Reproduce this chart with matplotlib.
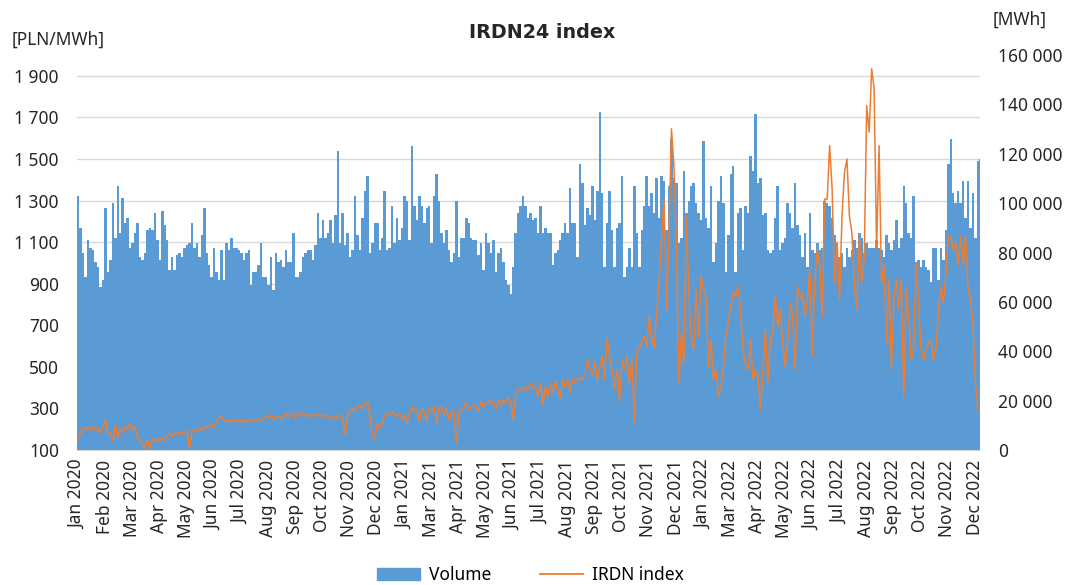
import numpy as np
import pandas as pd
import matplotlib
matplotlib.use("Agg")
import matplotlib.pyplot as plt
from matplotlib.patches import Patch
from matplotlib.lines import Line2D

# ---------------- data (3-day resolution) ----------------
start_date = "2020-01-01"
step_days = 3

# Volume [thousand MWh]
volume_2020 = [103,90,80,70,85,82,81,76,74,66,
               69,98,72,77,100,86,107,88,102,92,
               94,82,84,88,92,78,77,80,89,90,
               89,96,85,77,97,91,85,73,78,73,
               79,80,78,82,83,84,92,82,84,78,
               87,98,80,75,70,82,72,69,81,69,
               84,81,86,82,82,81,80,77,80,81,
               67,72,72,75,84,70,70,67,78,65,
               80,76,77,74,81,76,76,88,70,70,
               72,78,80,81,81,77,83,96,86,93,
               86,88,93,84,95,121,84,96,83,88,
               78,81,103,87,81,94,105,111,80,84,
               92,92]
volume_2021 = [81,86,105,81,82,99,84,94,85,90,
               103,101,85,123,99,93,103,99,92,98,
               99,84,103,112,101,88,84,89,81,76,
               80,101,78,86,86,94,92,86,85,85,
               79,84,73,88,84,80,85,72,80,82,
               76,69,67,63,74,88,96,99,103,99,
               94,96,93,94,88,99,88,90,88,88,
               75,80,81,85,88,92,88,106,92,92,
               78,116,108,91,98,95,107,93,105,137,
               104,74,92,105,89,74,90,92,111,70,
               74,82,74,107,88,74,89,99,111,99,
               104,96,110,94,111,109,89,107,126,110,
               108,84]
volume_2022 = [86,113,96,101,107,108,100,96,93,125,
               94,90,107,76,84,101,111,100,72,87,
               112,115,72,96,98,81,99,96,119,113,
               136,108,110,95,96,81,80,81,94,107,
               81,84,86,100,96,90,108,91,87,78,
               88,74,96,81,80,84,81,82,101,100,
               99,94,87,84,78,80,74,82,78,81,
               85,82,88,86,80,84,82,82,82,85,
               82,81,78,87,84,81,85,93,82,86,
               107,100,88,86,103,76,77,74,77,74,
               73,68,82,82,69,82,77,89,116,126,
               104,100,105,100,109,94,109,90,104,86,
               117,118]

# IRDN24 index [PLN/MWh]
price_2020 = [156,180,205,197,213,197,213,188,205,180,
              213,245,180,188,140,221,156,205,180,213,
              197,229,197,213,156,148,132,108,148,108,
              156,140,156,145,156,140,168,180,164,180,
              188,172,188,180,197,108,188,197,188,205,
              193,213,205,216,221,205,242,253,261,242,
              237,248,232,245,237,248,232,248,237,245,
              232,248,242,253,242,248,261,253,269,245,
              261,264,248,261,274,258,277,264,253,285,
              264,277,261,274,261,269,261,274,261,269,
              261,269,253,264,248,269,261,248,172,269,
              290,301,285,309,317,293,325,333,269,172,
              156,229]
price_2021 = [205,229,261,277,269,285,269,261,277,245,
              269,229,269,309,285,293,237,301,277,245,
              301,293,309,229,301,309,269,301,245,285,
              293,132,277,293,301,325,293,309,317,309,
              285,333,309,325,341,325,333,293,341,317,
              341,325,349,333,245,374,390,398,382,406,
              390,422,398,406,357,422,317,406,357,422,
              374,430,390,349,438,406,438,374,446,422,
              438,446,438,462,534,494,462,526,438,502,
              551,438,639,551,486,398,486,333,534,486,
              551,422,534,229,567,591,615,647,599,744,
              631,591,760,905,1130,1307,776,1146,1645,1468,
              1098,422]
price_2022 = [663,518,1226,872,631,583,872,647,937,872,
              840,502,631,438,486,357,406,486,647,711,
              792,856,840,888,760,583,502,486,631,438,
              486,454,293,470,679,422,631,663,840,695,
              776,615,502,615,808,744,486,888,824,856,
              744,824,969,551,905,1065,985,744,1307,1307,
              1564,1355,905,1098,824,1226,1435,1500,1226,1146,
              905,776,1130,905,1017,1757,1629,1934,1838,1065,
              1564,905,985,615,921,486,824,921,776,921,
              357,872,744,534,583,1001,808,583,534,583,
              615,631,534,583,760,888,808,937,1130,1130,
              1065,1098,985,1130,1001,1130,872,824,711,422,
              293,277]

left_ticks = [100, 300, 500, 700, 900, 1100, 1300, 1500, 1700, 1900]
right_ticks = [0, 20000, 40000, 60000, 80000, 100000, 120000, 140000, 160000]
label_every_days = 33

# ---------------- build ----------------
volume = np.array(volume_2020 + volume_2021 + volume_2022, dtype=float) * 1000
price = np.array(price_2020 + price_2021 + price_2022, dtype=float)
dates = pd.date_range(start_date, periods=len(volume), freq=f"{step_days}D")
line_dates = dates + pd.Timedelta(hours=36)

plt.rcParams['font.family'] = ['Noto Sans', 'DejaVu Sans']
BLUE = "#5B9BD5"
ORANGE = "#ED7D31"
GRID = "#D9D9D9"
TXT = "#262626"
FS = 12.5

fig = plt.figure(figsize=(10.7, 5.85), dpi=100)
rect = [77/1070, 1-450/585, (980-77)/1070, (450-55)/585]
ax_grid = fig.add_axes(rect)
ax_bar = ax_grid.twinx()
ax_line = ax_grid.twinx()

x0 = pd.Timestamp("2020-01-01")
x1 = pd.Timestamp("2023-01-01")

# gridlines layer (price scale)
ax_grid.set_ylim(100, 2000)
ax_grid.set_yticks(left_ticks)
ax_grid.set_yticklabels([f"{v:,}".replace(",", " ") for v in left_ticks])
ax_grid.yaxis.grid(True, color=GRID, lw=1.0)
ax_grid.set_axisbelow(True)

# bars (volume scale)
ax_bar.bar(dates, volume, width=step_days, align='edge', color=BLUE,
           linewidth=0, antialiased=False)
ax_bar.set_ylim(0, 160000)
ax_bar.set_yticks(right_ticks)
ax_bar.set_yticklabels([f"{v:,}".replace(",", " ") for v in right_ticks])

# line (price scale)
ax_line.plot(line_dates, price, color=ORANGE, lw=1.1)
ax_line.set_ylim(100, 2000)
ax_line.set_yticks([])

for a in (ax_grid, ax_bar, ax_line):
    a.set_xlim(x0, x1)
    for s in a.spines.values():
        s.set_visible(False)
    a.patch.set_visible(False)
ax_grid.spines['bottom'].set_visible(True)
ax_grid.spines['bottom'].set_color(GRID)

xt = pd.date_range(start_date, "2022-12-31", freq=f"{label_every_days}D")
ax_grid.set_xticks(xt + pd.Timedelta(hours=12))
ax_grid.set_xticklabels([d.strftime("%b %Y") for d in xt], rotation=90)
for a in (ax_bar, ax_line):
    a.tick_params(axis='x', which='both', bottom=False, top=False,
                  labelbottom=False, labeltop=False)

ax_grid.tick_params(axis='y', length=0, pad=13, labelsize=FS, labelcolor=TXT)
ax_grid.tick_params(axis='x', length=0, pad=7, labelsize=FS, labelcolor=TXT)
ax_bar.tick_params(axis='y', length=0, pad=13, labelsize=FS, labelcolor=TXT)

fig.text(542/1070, 1-33/585, "IRDN24 index", ha='center', va='center',
         fontsize=13.8, fontweight='bold', color=TXT, family=['DejaVu Sans'])
fig.text(12/1070, 1-40/585, "[PLN/MWh]", ha='left', va='center', fontsize=FS, color=TXT)
fig.text(993/1070, 1-20/585, "[MWh]", ha='left', va='center', fontsize=FS, color=TXT)

handles = [Patch(facecolor=BLUE, edgecolor=BLUE),
           Line2D([0], [0], color=ORANGE, lw=1.3)]
fig.legend(handles, ["Volume", "IRDN index"], loc='center', ncol=2,
           bbox_to_anchor=(530/1070, 1-575/585), frameon=False,
           fontsize=FS, handlelength=2.5, columnspacing=2.8, handletextpad=0.5)

fig.savefig("out.png", dpi=100)
